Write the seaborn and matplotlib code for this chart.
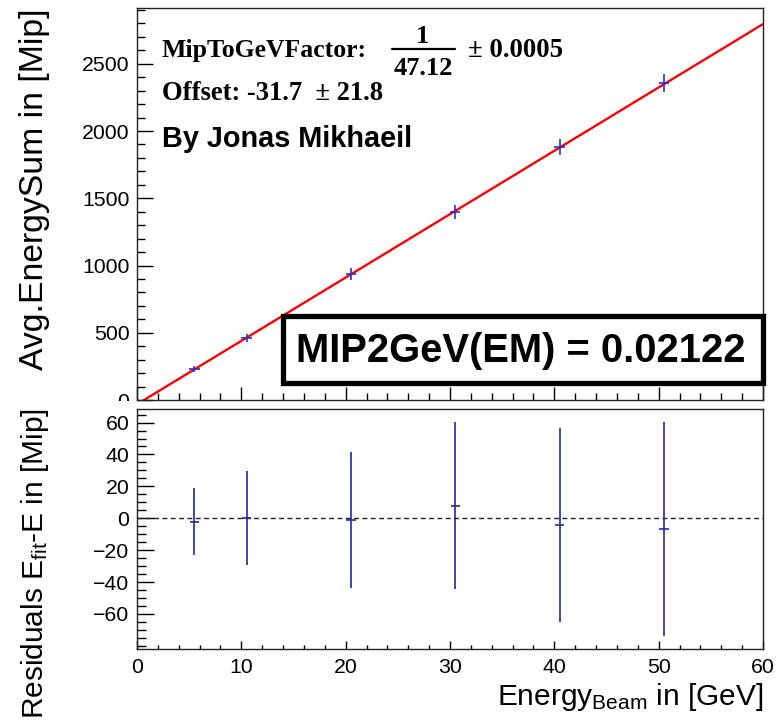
import numpy as np
import matplotlib
matplotlib.use("Agg")
import matplotlib.pyplot as plt
from matplotlib.ticker import MultipleLocator
from matplotlib.lines import Line2D
from matplotlib.patches import Rectangle
import seaborn as sns

# Beam energies and measured mean energy sums (in MIPs)
beam_energy = [5.5, 10.5, 20.5, 30.5, 40.5, 50.5]
energy_sum = [229.5, 462.8, 935.5, 1397.6, 1881.0, 2354.6]
energy_err = [21.0, 29.6, 42.5, 52.3, 61.0, 67.3]
beam_halfwidth = 0.5

# Fit residuals E_fit - E
residuals = [-2.1, 0.3, -1.2, 7.9, -4.3, -6.7]
residual_halfwidth = 0.45

# Linear fit parameters
fit_slope = 47.12
fit_offset = -31.7
fit_offset_err = 21.8
factor_err = 0.0005
mip2gev = 0.02122

x_range = (0, 60)
top_ylim = (0, 2915)
res_ylim = (-82, 68.5)
top_yticks = [0, 500, 1000, 1500, 2000, 2500]
res_yticks = [-60, -40, -20, 0, 20, 40, 60]
x_ticks = [0, 10, 20, 30, 40, 50, 60]

sns.set_style("ticks")
plt.rcParams["font.family"] = ["Liberation Sans", "DejaVu Sans"]
plt.rcParams["mathtext.fontset"] = "custom"
plt.rcParams["mathtext.rm"] = "Liberation Sans"
plt.rcParams["mathtext.it"] = "Liberation Sans:italic"
plt.rcParams["mathtext.bf"] = "Liberation Sans:bold"
for key in ("text.color", "axes.labelcolor", "xtick.color", "ytick.color",
            "axes.edgecolor"):
    plt.rcParams[key] = "black"

W, H = 779, 721
fig = plt.figure(figsize=(W / 100, H / 100), dpi=100)
fig.patch.set_facecolor("white")


def fx(px):
    return px / W


def fy(py):
    return 1 - py / H


ax_top = fig.add_axes([fx(137), fy(400), fx(763) - fx(137), fy(8) - fy(400)])
ax_res = fig.add_axes([fx(137), fy(649), fx(763) - fx(137), fy(409) - fy(649)])
ax_res.set_zorder(1)

mark_blue = "#2f2fc8"
res_blue = "#2626a6"

# ---- top panel: energy sum vs beam energy ----
x_fit = np.linspace(x_range[0], x_range[1], 200)
y_fit = fit_slope * x_fit + fit_offset
sns.lineplot(x=x_fit, y=y_fit, ax=ax_top, color="#ff0000", linewidth=1.7,
             legend=False, zorder=2)
ax_top.errorbar(beam_energy, energy_sum, xerr=beam_halfwidth, yerr=energy_err,
                fmt="none", ecolor=mark_blue, elinewidth=1.2, capsize=0, zorder=3)

ax_top.set_xlim(*x_range)
ax_top.set_ylim(*top_ylim)
ax_top.set_yticks(top_yticks)
ax_top.xaxis.set_major_locator(MultipleLocator(10))
ax_top.xaxis.set_minor_locator(MultipleLocator(2))
ax_top.yaxis.set_minor_locator(MultipleLocator(100))
ax_top.tick_params(axis="x", which="major", direction="in", length=9.4, width=1,
                   labelbottom=False)
ax_top.tick_params(axis="x", which="minor", direction="in", length=4.7, width=1)
ax_top.tick_params(axis="y", which="major", direction="in", length=11.5, width=1,
                   labelsize=15.3, pad=5.5)
ax_top.tick_params(axis="y", which="minor", direction="in", length=5.8, width=1)
ax_top.set_xlabel("")
ax_top.set_ylabel("")

# ---- bottom panel: residuals ----
ax_res.axhline(0, color="#222222", linestyle=(0, (3.5, 2.5)), linewidth=1.0, zorder=1)
ax_res.errorbar(beam_energy, residuals, xerr=residual_halfwidth, yerr=energy_err,
                fmt="none", ecolor=res_blue, elinewidth=1.2, capsize=0, zorder=3)
ax_res.set_xlim(*x_range)
ax_res.set_ylim(*res_ylim)
ax_res.set_xticks(x_ticks)
ax_res.set_yticks(res_yticks)
ax_res.xaxis.set_minor_locator(MultipleLocator(2))
ax_res.yaxis.set_minor_locator(MultipleLocator(5))
ax_res.tick_params(axis="x", which="major", direction="in", length=5.8, width=1,
                   labelsize=15.3, pad=6.5)
ax_res.tick_params(axis="x", which="minor", direction="in", length=3.2, width=1)
ax_res.tick_params(axis="y", which="major", direction="in", length=12, width=1,
                   labelsize=15.3, pad=5.5)
ax_res.tick_params(axis="y", which="minor", direction="in", length=6.5, width=1)
ax_res.set_xlabel("")
ax_res.set_ylabel("")

for ax in (ax_top, ax_res):
    for side in ("top", "right", "left", "bottom"):
        ax.spines[side].set_visible(True)
        ax.spines[side].set_linewidth(1.0)
        ax.spines[side].set_color("#222222")
    ax.set_facecolor("white")

# strip where the lower pad starts (hides the lower half of the top "0")
fig.patches.append(Rectangle((fx(90), fy(409)), fx(137) - fx(90), fy(400.6) - fy(409),
                             transform=fig.transFigure, facecolor="white",
                             edgecolor="none", zorder=0.5))

# ---- axis titles ----
fig.text(fx(43), fy(9), "Avg.EnergySum in [Mip]", rotation=90,
         rotation_mode="anchor", ha="right", va="baseline", fontsize=24.3)
fig.text(fx(43), fy(408), r"Residuals E$_{\mathrm{fit}}$-E in [Mip]", rotation=90,
         rotation_mode="anchor", ha="right", va="baseline", fontsize=21.5)
fig.text(fx(763), fy(705), r"Energy$_{\mathrm{Beam}}$ in [GeV]",
         ha="right", va="baseline", fontsize=21.5)

# ---- fit annotations ----
serif = ["Liberation Serif", "DejaVu Serif"]
fig.text(fx(162), fy(57), "MipToGeVFactor:", family=serif, weight="bold",
         fontsize=18.5, ha="left", va="baseline")
fig.text(fx(423), fy(43), "1", family=serif, weight="bold", fontsize=19,
         ha="center", va="baseline")
fig.text(fx(423), fy(75), f"{fit_slope:.2f}", family=serif, weight="bold",
         fontsize=19, ha="center", va="baseline")
fig.add_artist(Line2D([fx(392), fx(455)], [fy(49), fy(49)], transform=fig.transFigure,
                      color="black", linewidth=1.6))
fig.text(fx(468), fy(57), f"\u00b1 {factor_err:.4f}", family=serif, weight="bold",
         fontsize=19.3, ha="left", va="baseline")
fig.text(fx(162), fy(100), f"Offset: {fit_offset:.1f}  \u00b1 {fit_offset_err:.1f}",
         family=serif, weight="bold", fontsize=19.2, ha="left", va="baseline")
fig.text(fx(162), fy(147), "By Jonas Mikhaeil", weight="bold", fontsize=20.8,
         ha="left", va="baseline")

# ---- result box ----
fig.patches.append(Rectangle((fx(283), fy(383)), fx(763) - fx(283), fy(316) - fy(383),
                             transform=fig.transFigure, facecolor="white",
                             edgecolor="black", linewidth=3.8, zorder=2))
fig.text(fx(521), fy(351), f"MIP2GeV(EM) = {mip2gev:.5f}", weight="bold",
         fontsize=28.8, ha="center", va="center", zorder=3)

fig.savefig("out.png", dpi=100, facecolor="white")
